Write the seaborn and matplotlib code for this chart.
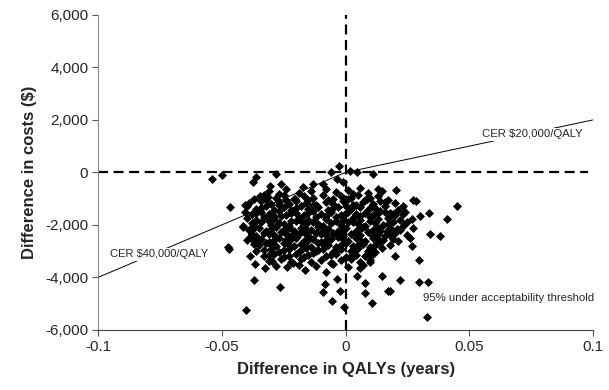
import matplotlib
matplotlib.use("Agg")
import matplotlib.pyplot as plt
import seaborn as sns
import pandas as pd

# ---- data ----
qaly_diff = [
    # sparse / edge points
    -0.0539, -0.0498, -0.0376, -0.0360, -0.0469, -0.0408, -0.0408, -0.0356, -0.0416, -0.0376,
    -0.0380, -0.0400, -0.0477, -0.0473, -0.0388, -0.0368, -0.0372, -0.0404, -0.0267, -0.0327,
    -0.0238, -0.0299, -0.0214, -0.0166, -0.0081, -0.0036, -0.0085, -0.0093, -0.0024, -0.0053,
    -0.0008, 0.0044, 0.0077, 0.0077, 0.0105, 0.0149, 0.0170, 0.0057, 0.0097, 0.0149,
    0.0198, 0.0267, 0.0295, 0.0218, 0.0295, 0.0331, 0.0178, 0.0327,
    0.0145, 0.0202, 0.0271, 0.0283, 0.0448, 0.0335, 0.0408, 0.0299, 0.0230, 0.0158,
    0.0158, 0.0190, 0.0230, 0.0250, 0.0271, 0.0339, 0.0380, 0.0259, 0.0190, 0.0166, 0.0206,
    -0.0028, -0.0057, 0.0016, 0.0044, 0.0110, 0.0129, 0.0085, -0.0012, -0.0036, -0.0093,
    -0.0133, -0.0174, -0.0206, -0.0307, -0.0259, -0.0283, -0.0400, -0.0347, -0.0347, -0.0315,
    -0.0416, -0.0380, -0.0388,
    # core rows
    -0.031, -0.024, -0.019, -0.014, -0.008, -0.004, 0.001, 0.006, 0.009, -0.027, 0.003,
    -0.037, -0.033, -0.028, -0.025, -0.021, -0.017, -0.013, -0.009, -0.005, -0.002, 0.002, 0.005, 0.010, 0.013, 0.017,
    -0.039, -0.034, -0.030, -0.027, -0.023, -0.020, -0.016, -0.012, -0.008, -0.005, -0.001, 0.003, 0.007, 0.011, 0.014, 0.020,
    -0.036, -0.032, -0.029, -0.025, -0.022, -0.018, -0.015, -0.011, -0.007, -0.003, 0.000, 0.002, 0.006, 0.009, 0.012, 0.016, 0.021,
    -0.038, -0.034, -0.031, -0.027, -0.024, -0.020, -0.017, -0.013, -0.010, -0.006, -0.002, 0.001, 0.004, 0.008, 0.011, 0.014, 0.018, 0.024,
    -0.040, -0.036, -0.033, -0.029, -0.026, -0.022, -0.019, -0.015, -0.012, -0.008, -0.004, -0.001, 0.003, 0.006, 0.010, 0.013, 0.017, 0.022, 0.027,
    -0.037, -0.034, -0.030, -0.027, -0.023, -0.020, -0.016, -0.013, -0.009, -0.006, -0.002, 0.001, 0.005, 0.008, 0.012, 0.015, 0.019, 0.023,
    -0.039, -0.035, -0.032, -0.028, -0.025, -0.021, -0.018, -0.014, -0.011, -0.007, -0.003, 0.000, 0.004, 0.007, 0.011, 0.014, 0.018, 0.022,
    -0.036, -0.033, -0.029, -0.026, -0.022, -0.019, -0.015, -0.012, -0.008, -0.005, -0.001, 0.002, 0.006, 0.009, 0.013, 0.016, 0.020, 0.025,
    -0.037, -0.034, -0.031, -0.027, -0.024, -0.020, -0.017, -0.013, -0.010, -0.006, -0.003, 0.001, 0.004, 0.008, 0.011, 0.015, 0.021,
    -0.035, -0.032, -0.028, -0.025, -0.021, -0.018, -0.014, -0.011, -0.007, -0.004, 0.000, 0.003, 0.007, 0.010, 0.013, 0.018,
    -0.036, -0.030, -0.027, -0.023, -0.019, -0.016, -0.012, -0.009, -0.005, -0.002, 0.002, 0.005, 0.009, 0.012,
    -0.033, -0.029, -0.025, -0.020, -0.017, -0.013, -0.008, -0.004, 0.000, 0.004, 0.008, 0.011,
    -0.031, -0.026, -0.022, -0.018, -0.014, -0.010, -0.006, -0.002, 0.002, 0.006, 0.010,
    -0.028, -0.019, -0.012, -0.005, 0.001, 0.007,
    # interleaved core points
    -0.032, -0.024, -0.015, -0.007, 0.001, 0.008,
    -0.034, -0.027, -0.020, -0.013, -0.005, 0.004, 0.010,
    -0.036, -0.029, -0.022, -0.015, -0.008, 0.000, 0.006, 0.013, 0.020,
    -0.038, -0.031, -0.025, -0.018, -0.011, -0.004, 0.003, 0.010, 0.017,
    -0.037, -0.030, -0.023, -0.016, -0.009, -0.001, 0.006, 0.013, 0.020,
    -0.038, -0.031, -0.024, -0.017, -0.010, -0.003, 0.004, 0.011, 0.018,
    -0.035, -0.029, -0.022, -0.015, -0.008, -0.001, 0.006, 0.013,
    -0.037, -0.030, -0.023, -0.016, -0.009, -0.002, 0.005, 0.012,
    -0.033, -0.025, -0.018, -0.011, -0.004, 0.004, 0.010,
    -0.031, -0.023, -0.015, -0.006, 0.002, 0.010,
]
cost_diff = [
    # sparse / edge points
    -240, -114, -370, -190, -1322, -1257, -1524, -1486, -2057, -2057,
    -2362, -2591, -2858, -2934, -3200, -3505, -4115, -5258, -4382, -3658,
    -3620, -3391, -3467, -3734, -3810, -4077, -4267, -4572, -4534, -4915,
    -5144, -3962, -4229, -4610, -4991, -3962, -4534, -3658, -3429, -2896,
    -3200, -2820, -3353, -4115, -4191, -4191, -4534, -5525,
    -724, -686, -1067, -1105, -1295, -1562, -1791, -1676, -1295, -1143,
    -1524, -1600, -1600, -1905, -2134, -2362, -2438, -2515, -2553, -2248, -2172,
    229, 0, 38, 0, -60, -648, -1029, -381, -267, -457,
    -457, -572, -1029, -533, -457, -76, -1295, -1410, -914, -953,
    -2096, -2096, -2477,
    # core rows
    -720, -650, -780, -700, -640, -760, -690, -600, -780, -810, -820,
    -1000, -880, -960, -870, -1010, -900, -980, -870, -1020, -910, -960, -880, -990, -900, -1040,
    -1180, -1100, -1220, -1120, -1200, -1080, -1160, -1240, -1110, -1200, -1090, -1230, -1130, -1200, -1080, -1180,
    -1380, -1290, -1420, -1330, -1440, -1280, -1390, -1300, -1420, -1330, -1270, -1400, -1310, -1440, -1350, -1290, -1420,
    -1600, -1500, -1580, -1470, -1620, -1530, -1640, -1480, -1570, -1510, -1630, -1490, -1600, -1530, -1640, -1470, -1560, -1500,
    -1750, -1820, -1700, -1790, -1680, -1840, -1730, -1810, -1690, -1780, -1700, -1830, -1740, -1820, -1690, -1790, -1730, -1810, -1760,
    -1990, -1880, -2020, -1930, -2040, -1870, -1980, -1900, -2030, -1920, -2000, -1880, -1970, -2050, -1910, -2000, -1890, -2030,
    -2200, -2120, -2230, -2080, -2180, -2240, -2100, -2200, -2070, -2170, -2250, -2110, -2220, -2090, -2190, -2240, -2120, -2210,
    -2420, -2300, -2390, -2280, -2440, -2330, -2410, -2290, -2380, -2300, -2430, -2330, -2400, -2270, -2360, -2440, -2320, -2390,
    -2620, -2530, -2640, -2500, -2590, -2480, -2600, -2520, -2640, -2550, -2470, -2600, -2510, -2630, -2490, -2580, -2620,
    -2780, -2700, -2820, -2690, -2800, -2720, -2840, -2680, -2760, -2850, -2700, -2800, -2730, -2840, -2690, -2780,
    -3000, -2900, -3020, -2920, -3040, -2880, -2990, -2900, -3030, -2930, -3010, -2880, -2980, -3050,
    -3200, -3100, -3230, -3120, -3240, -3080, -3180, -3100, -3220, -3130, -3200, -3090,
    -3380, -3300, -3420, -3290, -3400, -3320, -3440, -3350, -3280, -3400, -3330,
    -3560, -3520, -3580, -3500, -3590, -3540,
    # interleaved core points
    -1050, -1050, -1060, -1060, -1030, -1050,
    -1340, -1250, -1360, -1240, -1350, -1260, -1370,
    -1540, -1660, -1560, -1550, -1660, -1560, -1670, -1540, -1630,
    -1910, -1850, -1960, -1860, -1960, -1860, -1900, -1860, -1960,
    -2100, -2150, -2110, -2150, -2230, -2180, -2150, -2100, -2260,
    -2340, -2350, -2360, -2260, -2340, -2350, -2290, -2420, -2370,
    -2580, -2560, -2540, -2570, -2590, -2530, -2560, -2540,
    -2720, -2760, -2750, -2790, -2720, -2760, -2770, -2760,
    -2960, -2970, -2960, -2950, -2980, -2940, -2920,
    -3160, -3170, -3160, -3140, -3170, -3160,
]

cer_qaly = [-0.1, 0.0, 0.1]
cer_cost = [-4000, 0, 2000]

x_ticks = [-0.1, -0.05, 0, 0.05, 0.1]
x_tick_labels = ["-0.1", "-0.05", "0", "0.05", "0.1"]
y_ticks = [-6000, -4000, -2000, 0, 2000, 4000, 6000]
y_tick_labels = ["-6,000", "-4,000", "-2,000", "0", "2,000", "4,000", "6,000"]

labels = ["CER $20,000/QALY", "CER $40,000/QALY", "95% under acceptability threshold"]

# ---- plot ----
sns.set_style("white")
plt.rcParams["font.family"] = ["Liberation Sans", "DejaVu Sans"]

df = pd.DataFrame({"qaly": qaly_diff, "cost": cost_diff})

fig = plt.figure(figsize=(6.09, 3.90), dpi=100)
ax = fig.add_axes([0.161, 0.154, 0.813, 0.808])

sns.scatterplot(data=df, x="qaly", y="cost", marker="D", s=21, color="black",
                linewidth=0, ax=ax, zorder=3)

sns.lineplot(x=cer_qaly, y=cer_cost, color="black", linewidth=0.7, ax=ax,
             zorder=2, estimator=None, sort=False)

ax.axhline(0, color="black", linestyle=(0, (4.5, 2.5)), linewidth=1.6, zorder=1,
           xmin=0, xmax=0.99)
ax.axvline(0, color="black", linestyle=(0, (4.5, 2.5)), linewidth=1.6, zorder=1)

bbox = dict(facecolor="white", edgecolor="none", pad=1.0)
ax.text(0.0753, 1450, labels[0], fontsize=8.2, ha="center", va="center",
        bbox=bbox, zorder=4)
ax.text(-0.0752, -3120, labels[1], fontsize=8.0, ha="center", va="center",
        bbox=bbox, zorder=4)
ax.text(0.0311, -4780, labels[2], fontsize=8.2, ha="left", va="center", zorder=4)

ax.set_xlim(-0.1, 0.1)
ax.set_ylim(-6000, 6000)
ax.set_xticks(x_ticks)
ax.set_xticklabels(x_tick_labels, fontsize=11)
ax.set_yticks(y_ticks)
ax.set_yticklabels(y_tick_labels, fontsize=11)
ax.tick_params(axis="both", direction="out", length=4, width=0.8, color="#555555",
               left=True, bottom=True, pad=3)

ax.set_xlabel("Difference in QALYs (years)", fontsize=12, fontweight="bold", labelpad=6)
ax.set_ylabel("Difference in costs ($)", fontsize=12, fontweight="bold", labelpad=6)

for side in ["top", "right"]:
    ax.spines[side].set_visible(False)
ax.spines["left"].set_color("#888888")
ax.spines["left"].set_linewidth(0.8)
ax.spines["bottom"].set_color("#444444")
ax.spines["bottom"].set_linewidth(0.8)

fig.savefig("out.png", dpi=100)
